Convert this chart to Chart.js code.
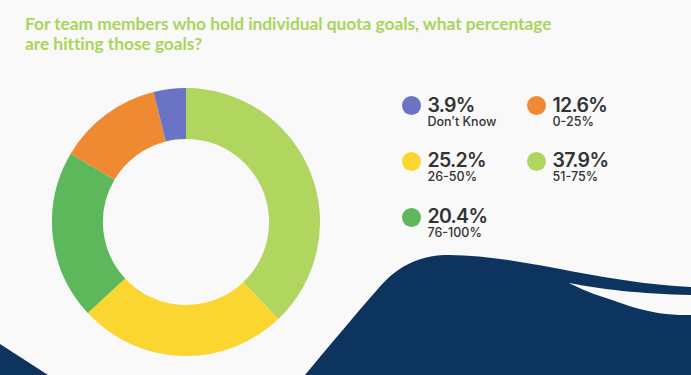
<!DOCTYPE html>
<html>
<head>
<meta charset="utf-8">
<script src="https://cdn.jsdelivr.net/npm/chart.js@4"></script>
<style>
  html, body { margin: 0; padding: 0; }
  body {
    width: 691px; height: 375px; overflow: hidden;
    background: #f9f9f9; position: relative;
    font-family: "Inter", "DejaVu Sans", sans-serif;
  }
  #wave { position: absolute; left: 0; top: 0; }
  #title {
    position: absolute; left: 25px; top: 14px;
    font-family: "Lato", sans-serif; font-weight: 700;
    font-size: 17.4px; line-height: 20px; color: #a9d55b;
    white-space: nowrap; letter-spacing: -0.05px;
  }
  #donutBox { position: absolute; left: 52px; top: 88px; width: 268px; height: 268px; }
  .legend-item { position: absolute; }
  .legend-item .dot { position: absolute; left: 0; top: 0; width: 19px; height: 19px; border-radius: 50%; }
  .legend-item .pct {
    position: absolute;
    font-weight: 600; font-size: 19.5px; line-height: 20px; color: #333;
    white-space: nowrap; letter-spacing: -0.7px;
  }
  .legend-item .lbl {
    position: absolute;
    font-weight: 500; font-size: 12.5px; line-height: 14px; color: #333;
    white-space: nowrap;
  }
</style>
</head>
<body>
<svg id="wave" width="691" height="375">
  <path d="M305 375 C330 345, 355 315, 377 290 C400 262, 425 255, 449 255 C520 255, 600 283, 691 287 L691 375 Z" fill="#0d345f"/>
  <path d="M569 283 C600 289, 640 294, 691 295 L691 315 C650 316, 625 304, 600 296 C585 291, 575 286, 569 283 Z" fill="#f9f9f9"/>
  <path d="M0 344 L48 375 L0 375 Z" fill="#0d345f"/>
</svg>

<div id="title">For team members who hold individual quota goals, what percentage<br>are hitting those goals?</div>

<div id="donutBox"><canvas id="donut"></canvas></div>
<div id="legend"></div>

<script>
// slices, clockwise from 12 o'clock
const categories = ["51-75%", "26-50%", "76-100%", "0-25%", "Don’t Know"];
const shares = [37.9, 25.2, 20.4, 12.6, 3.9];
const sliceColors = ["#b1d660", "#fcd630", "#5cb85a", "#f08a32", "#6b74c4"];

// legend reading order (indexes into the arrays above)
const legendOrder = [4, 3, 1, 0, 2];
const legendCols = [411, 536];
const legendRows = [105.7, 161, 217.3];

new Chart(document.getElementById("donut"), {
  type: "doughnut",
  data: {
    labels: categories,
    datasets: [{
      data: shares,
      backgroundColor: sliceColors,
      borderWidth: 0,
      hoverOffset: 0
    }]
  },
  options: {
    responsive: true,
    maintainAspectRatio: false,
    animation: false,
    cutout: "62%",
    layout: { padding: 0 },
    plugins: {
      legend: { display: false },
      tooltip: { enabled: false }
    }
  }
});

// custom two-line legend
const legend = document.getElementById("legend");
legendOrder.forEach((idx, i) => {
  const cx = legendCols[i % 2];
  const cy = legendRows[Math.floor(i / 2)];
  const item = document.createElement("div");
  item.className = "legend-item";
  item.style.left = (cx - 9.5) + "px";
  item.style.top = (cy - 9.5) + "px";
  item.innerHTML =
    `<div class="dot" style="background:${sliceColors[idx]}"></div>` +
    `<div class="pct" style="left:26px;top:-1.5px">${shares[idx].toFixed(1)}%</div>` +
    `<div class="lbl" style="left:26px;top:18.5px">${categories[idx]}</div>`;
  legend.appendChild(item);
});
</script>
</body>
</html>
